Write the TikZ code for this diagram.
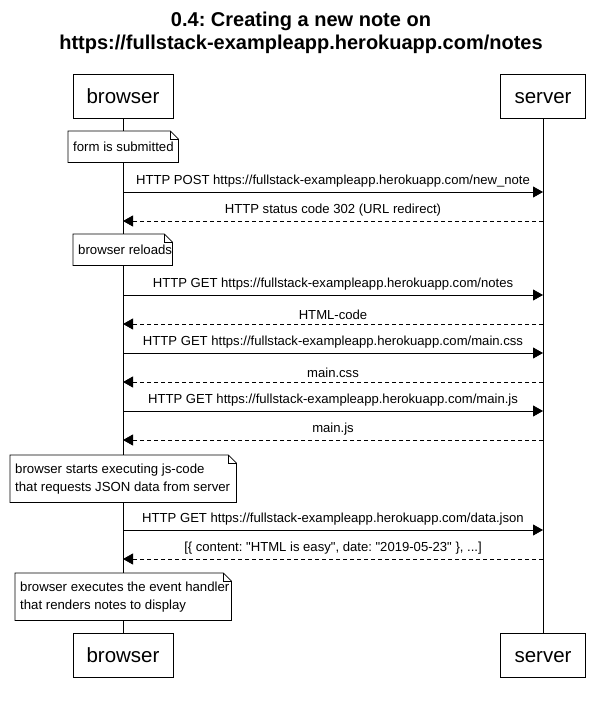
\documentclass[tikz,border=0pt]{standalone}
\usepackage{fontspec}
\setmainfont{Liberation Sans}[Ligatures=TeXOff]
\usetikzlibrary{arrows.meta}
\frenchspacing
\begin{document}
\begin{tikzpicture}[x=1pt,y=-1pt,
  actor/.style={draw,line width=0.8pt,minimum width=100pt,minimum height=44pt,inner sep=0pt,text height=16pt,text depth=2pt,font=\fontsize{20.5}{24}\selectfont},
  life/.style={line width=0.8pt},
  msg/.style={line width=0.8pt,-{Triangle[length=10pt,width=11pt]}},
  reply/.style={msg,dash pattern=on 4pt off 3pt},
  lbl/.style={font=\fontsize{13.1}{15}\selectfont,inner sep=0pt,anchor=base},
  notebox/.style={fill=white,align=left,inner xsep=6pt,inner ysep=0pt,anchor=north west},
  notetext/.style={font=\fontsize{13.2}{18}\selectfont,align=left,anchor=west,inner sep=0pt},
  noteline/.style={line width=0.8pt,line join=miter}
]
\useasboundingbox (0,0) rectangle (601,702);
\node[font=\bfseries\fontsize{20}{23}\selectfont,align=center] (title) at (301,33) {0.4: Creating a new note on\\https://fullstack-exampleapp.herokuapp.com/notes};

\node[actor] (bt) at (123,96) {browser};
\node[actor,minimum width=85pt] (st) at (543,96) {server};
\node[actor] (bb) at (123,655) {browser};
\node[actor,minimum width=85pt] (sb) at (543,655) {server};
\draw[life] (bt.south) -- (bb.north);
\draw[life] (st.south) -- (sb.north);

% notes
\newcommand{\mynote}[6]{% name, x1, y1, x2, y2, text
  \node[notebox,minimum width={#4-#2},minimum height={#5-#3}] (#1) at (#2,#3) {};
  \node[notetext] (#1t) at ([xshift=5pt]#1.west) {#6};
  \draw[noteline] (#1.north west) -- ([xshift=-8pt]#1.north east) -- ([yshift=-8pt]#1.north east) -- (#1.south east) -- (#1.south west) -- cycle;
  \draw[line width=0.6pt] ([xshift=-8pt]#1.north east) -- ([xshift=-8pt,yshift=-8pt]#1.north east) -- ([yshift=-8pt]#1.north east);
}
\mynote{n1}{68}{131}{178}{162}{form is submitted}
\mynote{n2}{73}{234}{172}{265}{browser reloads}
\mynote{n3}{10}{455}{236}{502}{browser starts executing js-code\\that requests JSON data from server}
\mynote{n4}{15}{573}{231}{620}{browser executes the event handler\\that renders notes to display}

% messages
\foreach \i/\y in {1/192,2/221,3/295,4/324,5/353,6/382,7/411,8/440,9/530,10/559}{
  \coordinate (b\i) at (123,\y);
  \coordinate (s\i) at (543,\y);
}
\draw[msg] (b1) -- (s1) node[lbl,midway,above=4pt] {HTTP POST https://fullstack-exampleapp.herokuapp.com/new\_note};
\draw[reply] (s2) -- (b2) node[lbl,midway,above=4pt] {HTTP status code 302 (URL redirect)};
\draw[msg] (b3) -- (s3) node[lbl,midway,above=4pt] {HTTP GET https://fullstack-exampleapp.herokuapp.com/notes};
\draw[reply] (s4) -- (b4) node[lbl,midway,above=4pt] {HTML-code};
\draw[msg] (b5) -- (s5) node[lbl,midway,above=4pt] {HTTP GET https://fullstack-exampleapp.herokuapp.com/main.css};
\draw[reply] (s6) -- (b6) node[lbl,midway,above=4pt] {main.css};
\draw[msg] (b7) -- (s7) node[lbl,midway,above=4pt] {HTTP GET https://fullstack-exampleapp.herokuapp.com/main.js};
\draw[reply] (s8) -- (b8) node[lbl,midway,above=4pt] {main.js};
\draw[msg] (b9) -- (s9) node[lbl,midway,above=4pt] {HTTP GET https://fullstack-exampleapp.herokuapp.com/data.json};
\draw[reply] (s10) -- (b10) node[lbl,midway,above=4pt] {[\{ content: "HTML is easy", date: "2019-05-23" \}, ...]};
\end{tikzpicture}
\end{document}
